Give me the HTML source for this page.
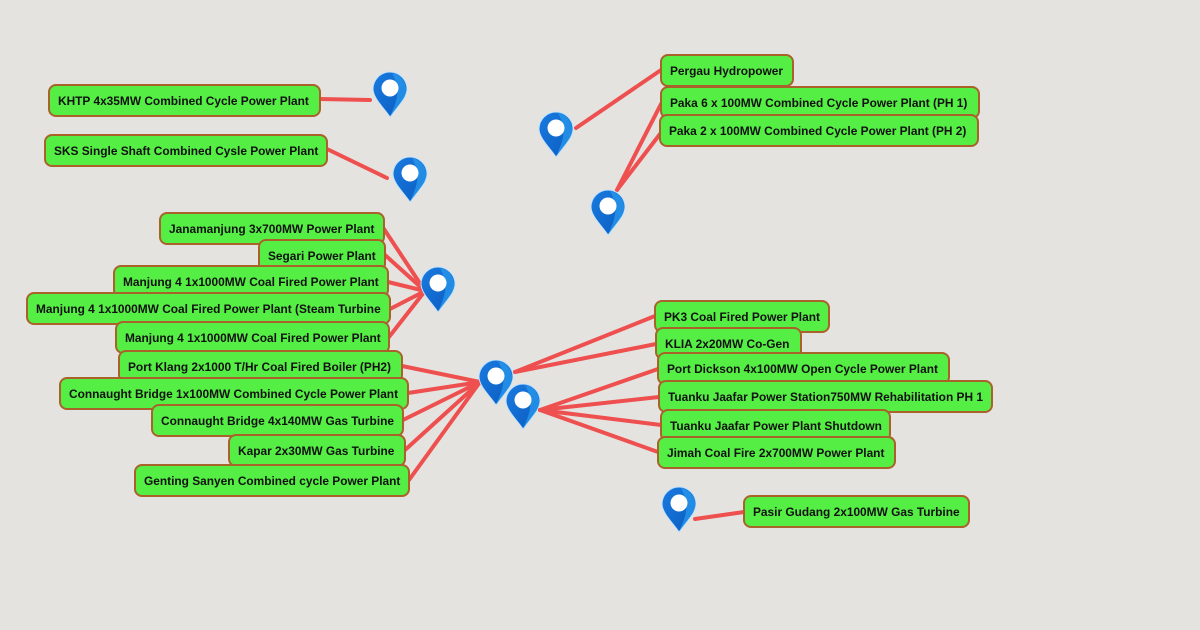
<!DOCTYPE html>
<html><head><meta charset="utf-8"><style>
html,body{margin:0;padding:0;background:#e5e3df;}
svg{display:block}
text{font-family:"Liberation Sans",Arial,sans-serif;font-weight:bold;font-size:11.9px;fill:#111;}
</style></head><body>
<svg width="1200" height="630" viewBox="0 0 1200 630" xmlns="http://www.w3.org/2000/svg">
<defs>
<linearGradient id="pg" x1="0" y1="0" x2="1" y2="1">
<stop offset="0" stop-color="#1a7be0"/><stop offset="1" stop-color="#0a5bbf"/>
</linearGradient>
<g id="pin">
<path d="M0,27 C-6,18 -17,8 -17,-1 A17,17 0 1 1 17,-1 C17,8 6,18 0,27 Z" fill="url(#pg)" stroke="#bfe3ff" stroke-width="1"/>
<path d="M2,-17 A17,17 0 0 1 14,8 C10,14 5,20 0,27 C6,12 12,2 2,-17Z" fill="#2b9cf0" opacity="0.7"/>
<circle cx="0" cy="-2" r="8.5" fill="#fff"/>
</g>
</defs>
<g stroke="#ee5050" stroke-width="4" stroke-linecap="round" fill="none">
<line x1="320" y1="99" x2="370" y2="100"/>
<line x1="327" y1="149" x2="387" y2="178"/>
<line x1="576" y1="128" x2="661" y2="70"/>
<line x1="617" y1="190" x2="661" y2="104"/>
<line x1="617" y1="190" x2="660" y2="134"/>
<line x1="384" y1="229" x2="425" y2="291"/>
<line x1="385" y1="255" x2="425" y2="291"/>
<line x1="388" y1="282" x2="425" y2="291"/>
<line x1="390" y1="309" x2="425" y2="291"/>
<line x1="389" y1="337" x2="425" y2="291"/>
<line x1="402" y1="366" x2="480" y2="382"/>
<line x1="408" y1="393" x2="480" y2="382"/>
<line x1="403" y1="420" x2="480" y2="382"/>
<line x1="405" y1="450" x2="480" y2="382"/>
<line x1="409" y1="480" x2="480" y2="382"/>
<line x1="515" y1="372" x2="655" y2="316"/>
<line x1="515" y1="372" x2="656" y2="344"/>
<line x1="540" y1="410" x2="658" y2="369"/>
<line x1="540" y1="410" x2="659" y2="397"/>
<line x1="540" y1="410" x2="661" y2="425"/>
<line x1="540" y1="410" x2="658" y2="452"/>
<line x1="695" y1="519" x2="744" y2="512"/>
</g>
<g fill="#55ee44" stroke="#a8622a" stroke-width="2">
<rect x="49" y="85" width="271" height="31" rx="7"/>
<rect x="45" y="135" width="282" height="31" rx="7"/>
<rect x="160" y="213" width="224" height="31" rx="7"/>
<rect x="259" y="240" width="126" height="31" rx="7"/>
<rect x="114" y="266" width="274" height="31" rx="7"/>
<rect x="27" y="293" width="363" height="31" rx="7"/>
<rect x="116" y="322" width="273" height="31" rx="7"/>
<rect x="119" y="351" width="283" height="31" rx="7"/>
<rect x="60" y="378" width="348" height="31" rx="7"/>
<rect x="152" y="405" width="251" height="31" rx="7"/>
<rect x="229" y="435" width="176" height="31" rx="7"/>
<rect x="135" y="465" width="274" height="31" rx="7"/>
<rect x="661" y="55" width="132" height="31" rx="7"/>
<rect x="661" y="87" width="318" height="31" rx="7"/>
<rect x="660" y="115" width="318" height="31" rx="7"/>
<rect x="655" y="301" width="174" height="31" rx="7"/>
<rect x="656" y="328" width="145" height="31" rx="7"/>
<rect x="658" y="353" width="291" height="31" rx="7"/>
<rect x="659" y="381" width="333" height="31" rx="7"/>
<rect x="661" y="410" width="229" height="31" rx="7"/>
<rect x="658" y="437" width="237" height="31" rx="7"/>
<rect x="744" y="496" width="225" height="31" rx="7"/>
</g>
<g>
<text x="58" y="105">KHTP 4x35MW Combined Cycle Power Plant</text>
<text x="54" y="155">SKS Single Shaft Combined Cysle Power Plant</text>
<text x="169" y="233">Janamanjung 3x700MW Power Plant</text>
<text x="268" y="260">Segari Power Plant</text>
<text x="123" y="286">Manjung 4 1x1000MW Coal Fired Power Plant</text>
<text x="36" y="313">Manjung 4 1x1000MW Coal Fired Power Plant (Steam Turbine</text>
<text x="125" y="342">Manjung 4 1x1000MW Coal Fired Power Plant</text>
<text x="128" y="371">Port Klang 2x1000 T/Hr Coal Fired Boiler (PH2)</text>
<text x="69" y="398">Connaught Bridge 1x100MW Combined Cycle Power Plant</text>
<text x="161" y="425">Connaught Bridge 4x140MW Gas Turbine</text>
<text x="238" y="455">Kapar 2x30MW Gas Turbine</text>
<text x="144" y="485">Genting Sanyen Combined cycle Power Plant</text>
<text x="670" y="75">Pergau Hydropower</text>
<text x="670" y="107">Paka 6 x 100MW Combined Cycle Power Plant (PH 1)</text>
<text x="669" y="135">Paka 2 x 100MW Combined Cycle Power Plant (PH 2)</text>
<text x="664" y="321">PK3 Coal Fired Power Plant</text>
<text x="665" y="348">KLIA 2x20MW Co-Gen</text>
<text x="667" y="373">Port Dickson 4x100MW Open Cycle Power Plant</text>
<text x="668" y="401">Tuanku Jaafar Power Station750MW Rehabilitation PH 1</text>
<text x="670" y="430">Tuanku Jaafar Power Plant Shutdown</text>
<text x="667" y="457">Jimah Coal Fire 2x700MW Power Plant</text>
<text x="753" y="516">Pasir Gudang 2x100MW Gas Turbine</text>
</g>
<use href="#pin" x="390" y="90"/>
<use href="#pin" x="410" y="175"/>
<use href="#pin" x="556" y="130"/>
<use href="#pin" x="608" y="208"/>
<use href="#pin" x="438" y="285"/>
<use href="#pin" x="496" y="378"/>
<use href="#pin" x="523" y="402"/>
<use href="#pin" x="679" y="505"/>
</svg>
</body></html>
